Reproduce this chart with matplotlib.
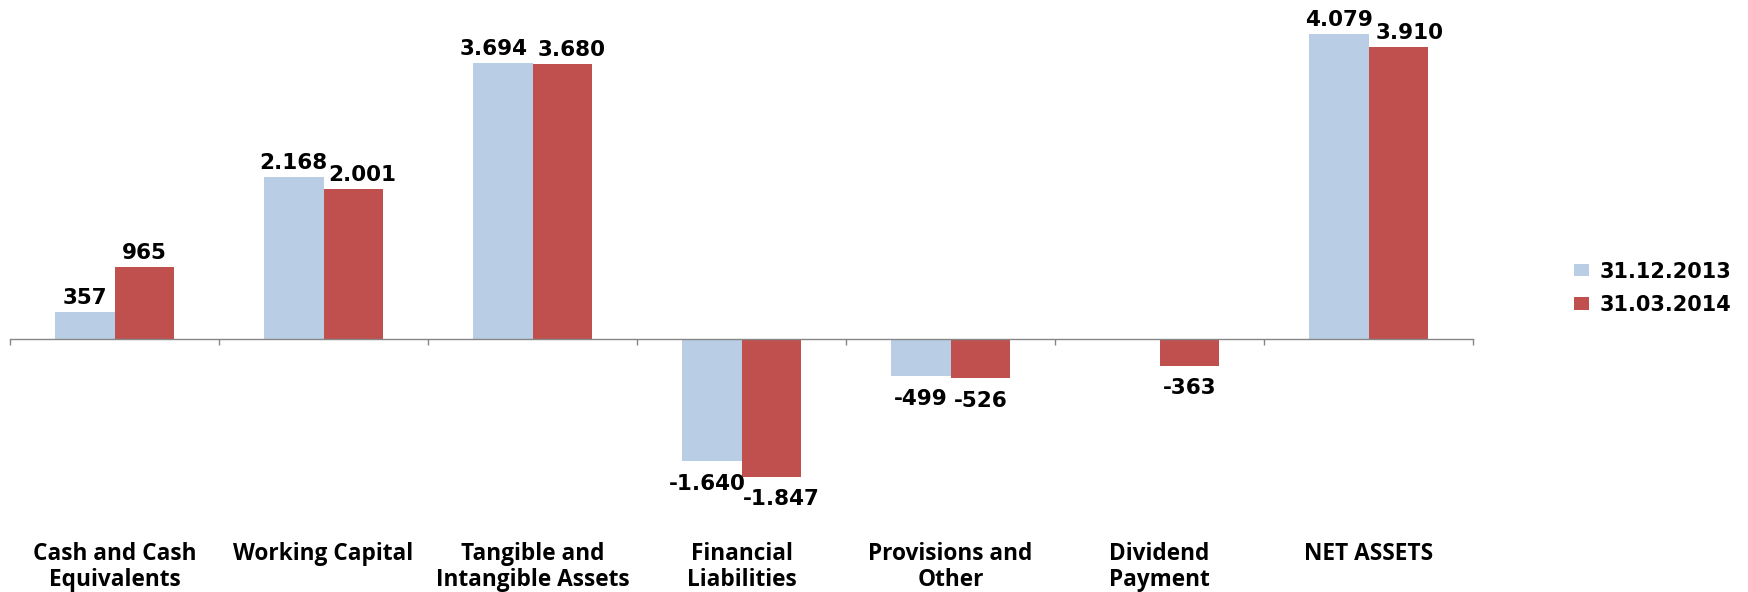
import matplotlib

matplotlib.use("Agg")
import matplotlib.pyplot as plt
from matplotlib.patches import Patch
import numpy as np

CATEGORIES = [
    "Cash and Cash\nEquivalents",
    "Working Capital",
    "Tangible and\nIntangible Assets",
    "Financial\nLiabilities",
    "Provisions and\nOther",
    "Dividend\nPayment",
    "NET ASSETS",
]
SERIES_NAMES = ["31.12.2013", "31.03.2014"]
VALUES_2013 = [357, 2168, 3694, -1640, -499, np.nan, 4079]
VALUES_2014 = [965, 2001, 3680, -1847, -526, -363, 3910]

# horizontal nudges (points) so neighbouring value labels do not collide
NUDGE_2013 = [0, 0, -6.5, -3.5, 0, 0, 0]
NUDGE_2014 = [0, 6.5, 6.5, 7, 0, 0, 8.5]

BLUE = "#B9CDE5"
RED = "#C0504D"
AXIS_GREY = "#868686"
LABEL_FONT = ["Open Sans", "DejaVu Sans"]
VALUE_FONT = ["DejaVu Sans"]
VALUE_SIZE = 15.5


def _fmt(value: float) -> str:
    return f"{int(value):,}".replace(",", ".")


def main() -> None:
    fig = plt.figure(figsize=(17.48, 5.92), dpi=100)
    ax = fig.add_axes([10 / 1748, 44 / 592, 1463 / 1748, 534 / 592])

    x = np.arange(len(CATEGORIES))
    width = 0.285
    series = (
        (VALUES_2013, BLUE, -width / 2, NUDGE_2013),
        (VALUES_2014, RED, width / 2, NUDGE_2014),
    )
    for values, color, offset, nudges in series:
        vals = np.asarray(values, dtype=float)
        bars = ax.bar(x + offset, vals, width=width, color=color, edgecolor="none", zorder=2)
        for bar, v, dx in zip(bars, vals, nudges):
            if np.isnan(v):
                continue
            cx = bar.get_x() + bar.get_width() / 2
            if v >= 0:
                xytext, va = (dx, 3), "bottom"
            else:
                xytext, va = (dx, -9), "top"
            ax.annotate(_fmt(v), (cx, v), xytext=xytext, textcoords="offset points",
                        ha="center", va=va, fontsize=VALUE_SIZE, fontweight="bold",
                        family=VALUE_FONT)

    ax.set_xlim(-0.5, len(CATEGORIES) - 0.5)
    ax.set_ylim(-2800, 4350)
    ax.set_yticks([])
    for side in ("left", "right", "top"):
        ax.spines[side].set_visible(False)
    ax.spines["bottom"].set_position(("data", 0))
    ax.spines["bottom"].set_color(AXIS_GREY)
    ax.spines["bottom"].set_linewidth(1.0)

    ax.set_xticks(np.arange(len(CATEGORIES) + 1) - 0.5)
    ax.set_xticklabels([])
    ax.tick_params(axis="x", which="major", direction="out", length=4.5, width=1.0, color=AXIS_GREY)
    ax.set_xticks(x, CATEGORIES, minor=True)
    ax.tick_params(axis="x", which="minor", length=0, pad=146)
    for label in ax.get_xticklabels(minor=True):
        label.set_family(LABEL_FONT)
        label.set_fontweight("bold")
        label.set_fontsize(16.3)
        label.set_linespacing(1.12)

    handles = [Patch(facecolor=BLUE, edgecolor="none"), Patch(facecolor=RED, edgecolor="none")]
    fig.legend(handles, SERIES_NAMES, loc="center left", bbox_to_anchor=(0.890, 0.513),
               frameon=False, handlelength=0.7, handleheight=0.55, handletextpad=0.5,
               labelspacing=0.65, prop={"family": VALUE_FONT, "weight": "bold", "size": 15})

    fig.savefig("out.png", dpi=100)
    plt.close(fig)


if __name__ == "__main__":
    main()
